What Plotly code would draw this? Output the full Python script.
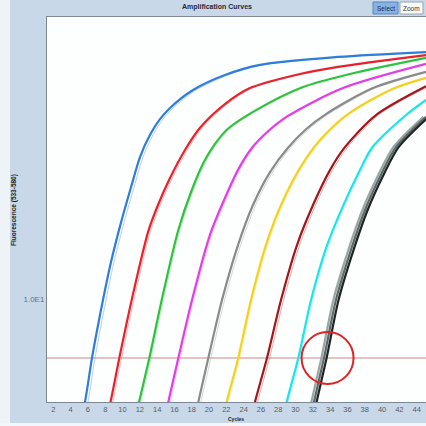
import math
import plotly.graph_objects as go

# ---- data -----------------------------------------------------------------
# Amplification curves of a 10-fold dilution series (cycle, fluorescence)
blue_cyc = [4.5, 5.66, 6.47, 7.74, 8.67, 9.83, 10.98, 12.02, 13.18, 14.33, 15.49, 18.15, 21.84, 25.89, 34.91, 45.08]
blue_flu = [3.8, 5.10, 6.81, 9.97, 12.8, 16.6, 20.9, 25.5, 29.5, 32.7, 35.2, 39.6, 43.7, 46.7, 49.2, 50.8]

red_cyc = [7.4, 8.61, 9.63, 11.06, 12.96, 14.10, 15.49, 17.22, 18.96, 21.84, 24.73, 30.51, 34.91, 45.08]
red_flu = [3.8, 5.10, 6.81, 9.97, 15.6, 18.6, 22.2, 26.7, 30.9, 36.1, 40.1, 44.0, 46.1, 49.8]

green_cyc = [10.7, 11.91, 13.10, 14.53, 16.45, 18.00, 19.42, 20.69, 22.19, 25.43, 30.86, 36.29, 45.08]
green_flu = [3.8, 5.10, 6.81, 9.97, 15.79, 20.5, 24.7, 27.8, 30.7, 34.7, 40.4, 44.0, 48.9]

magenta_cyc = [14.1, 15.29, 16.45, 18.03, 20.11, 22.08, 23.46, 24.97, 26.82, 29.13, 35.48, 45.08]
magenta_flu = [3.8, 5.10, 6.81, 9.97, 15.3, 20.1, 23.7, 27.1, 30.2, 33.4, 40.1, 47.0]

gray_cyc = [17.6, 18.76, 19.92, 21.50, 23.35, 25.08, 27.05, 29.13, 31.21, 33.52, 38.95, 45.08]
gray_flu = [3.8, 5.10, 6.81, 9.97, 14.3, 18.6, 23.1, 27.1, 30.6, 33.8, 40.1, 44.6]

yellow_cyc = [20.8, 22.04, 23.38, 24.85, 26.58, 28.32, 30.51, 32.83, 36.06, 41.26, 45.08]
yellow_flu = [3.8, 5.10, 6.81, 9.97, 14.3, 18.6, 23.7, 28.5, 33.8, 39.9, 42.9]

darkred_cyc = [24.1, 25.31, 26.70, 28.32, 30.17, 32.02, 33.98, 35.71, 39.30, 45.08]
darkred_flu = [3.8, 5.10, 6.81, 9.97, 14.3, 18.6, 23.4, 27.2, 33.6, 40.6]

cyan_cyc = [27.8, 28.98, 30.32, 31.79, 33.52, 35.37, 37.45, 38.84, 42.77, 45.08]
cyan_flu = [3.8, 5.10, 6.81, 9.97, 14.0, 18.2, 23.4, 27.1, 33.6, 37.1]

black_cyc = [31.0, 32.13, 33.29, 34.67, 36.41, 38.03, 39.88, 41.61, 45.08]
black_flu = [3.8, 5.10, 6.81, 9.97, 13.85, 18.0, 22.7, 27.2, 33.2]

# replicate wells: cycle offset of each replicate relative to the first
blue_reps = [0.0, 0.35]
red_reps = [0.0, 0.25]
green_reps = [0.0, 0.2]
magenta_reps = [0.0, 0.2]
gray_reps = [0.0, 0.3]
yellow_reps = [0.0, 0.2]
darkred_reps = [0.0, 0.3]
cyan_reps = [0.0, 0.2]
black_reps = [-0.3, 0.0, 0.3]

THRESHOLD = 6.81
CROSS_CYCLE = 33.7          # circled crossing of the last dilution

x_ticks = list(range(2, 46, 2))
y_tick_vals = [10]
y_tick_text = ["1.0E1"]

X_RANGE = [1.27, 45.08]
Y_RANGE = [math.log10(5.10), math.log10(63.97)]

# ---- figure ---------------------------------------------------------------
W, H = 426, 426
ML, MR, MT, MB = 47, 0, 17, 24
PW, PH = W - ML - MR, H - MT - MB

series = [
    (blue_cyc, blue_flu, blue_reps, ["#2f7ddb", "#6fa3e6"]),
    (red_cyc, red_flu, red_reps, ["#e8222c", "#ee6a6a"]),
    (green_cyc, green_flu, green_reps, ["#2fc23f", "#77d880"]),
    (magenta_cyc, magenta_flu, magenta_reps, ["#e23ee6", "#ee86ef"]),
    (gray_cyc, gray_flu, gray_reps, ["#8a8a8a", "#b0b0b0"]),
    (yellow_cyc, yellow_flu, yellow_reps, ["#f2d21e", "#f5e070"]),
    (darkred_cyc, darkred_flu, darkred_reps, ["#a3171b", "#c25a5c"]),
    (cyan_cyc, cyan_flu, cyan_reps, ["#1fe3ea", "#7aeef2"]),
    (black_cyc, black_flu, black_reps, ["#9aa6a6", "#5c6868", "#1e2424"]),
]

fig = go.Figure()

# horizontal threshold line
fig.add_trace(go.Scatter(
    x=X_RANGE, y=[THRESHOLD, THRESHOLD], mode="lines",
    line=dict(color="#c98a82", width=1.2), hoverinfo="skip", showlegend=False))

for cyc, flu, reps, colors in series:
    group = len(colors) > 2
    order = list(range(len(reps))) if group else list(reversed(range(len(reps))))
    for i in order:
        shift = reps[i]
        col = colors[i] if i < len(colors) else colors[-1]
        main = (shift == 0.0) or group
        fig.add_trace(go.Scatter(
            x=[c + shift for c in cyc], y=flu, mode="lines",
            line=dict(color=col, width=2.2 if main else 1.0,
                      shape="spline", smoothing=0.8),
            opacity=1.0 if main else 0.5,
            hoverinfo="skip", showlegend=False))


def px_to_paper(px, py):
    return (px - ML) / PW, (H - MB - py) / PH


# circle around the crossing point of the last dilution
cx = (CROSS_CYCLE - X_RANGE[0]) / (X_RANGE[1] - X_RANGE[0])
cy = (math.log10(THRESHOLD) - Y_RANGE[0]) / (Y_RANGE[1] - Y_RANGE[0])
r = 26
shapes = [dict(type="circle", xref="paper", yref="paper",
               x0=cx - r / PW, x1=cx + r / PW, y0=cy - r / PH, y1=cy + r / PH,
               line=dict(color="#e02222", width=2))]

# window chrome: pale margins and toolbar buttons
x0, y0 = px_to_paper(0, 426)
x1, y1 = px_to_paper(10, 0)
shapes.append(dict(type="rect", xref="paper", yref="paper", x0=x0, x1=x1, y0=y0, y1=y1,
                   fillcolor="#eef3f8", line_width=0, layer="below"))
x0, y0 = px_to_paper(0, 426)
x1, y1 = px_to_paper(426, 423)
shapes.append(dict(type="rect", xref="paper", yref="paper", x0=x0, x1=x1, y0=y0, y1=y1,
                   fillcolor="#f4f7fa", line_width=0, layer="below"))
bx0, by0 = px_to_paper(373, 14)
bx1, by1 = px_to_paper(398, 2)
shapes.append(dict(type="rect", xref="paper", yref="paper", x0=bx0, x1=bx1, y0=by0, y1=by1,
                   fillcolor="#86b3e3", line=dict(color="#5a86b8", width=1)))
zx0, zy0 = px_to_paper(400, 14)
zx1, zy1 = px_to_paper(423, 2)
shapes.append(dict(type="rect", xref="paper", yref="paper", x0=zx0, x1=zx1, y0=zy0, y1=zy1,
                   fillcolor="#fbfbfb", line=dict(color="#9aa4ae", width=1)))

annotations = []
tx, ty = px_to_paper(217, 7)
annotations.append(dict(text="<b>Amplification Curves</b>", xref="paper", yref="paper",
                        x=tx, y=ty, showarrow=False, xanchor="center", yanchor="middle",
                        font=dict(size=7, color="#1e2a3a", family="Liberation Sans")))
sx, sy = px_to_paper(385.5, 8)
annotations.append(dict(text="Select", xref="paper", yref="paper", x=sx, y=sy,
                        showarrow=False, xanchor="center", yanchor="middle",
                        font=dict(size=6.5, color="#1d2b45", family="Liberation Sans")))
zx, zy = px_to_paper(411.5, 8)
annotations.append(dict(text="Zoom", xref="paper", yref="paper", x=zx, y=zy,
                        showarrow=False, xanchor="center", yanchor="middle",
                        font=dict(size=6.5, color="#333333", family="Liberation Sans")))
yx, yy = px_to_paper(14, 210)
annotations.append(dict(text="<b>Fluorescence (533-580)</b>", xref="paper", yref="paper",
                        x=yx, y=yy, showarrow=False, textangle=-90,
                        xanchor="center", yanchor="middle",
                        font=dict(size=6.5, color="#1a1a1a", family="Liberation Sans")))
cx_, cy_ = px_to_paper(236, 419)
annotations.append(dict(text="<b>Cycles</b>", xref="paper", yref="paper", x=cx_, y=cy_,
                        showarrow=False, xanchor="center", yanchor="middle",
                        font=dict(size=5, color="#1a1a1a", family="Liberation Sans")))

fig.update_layout(
    width=W, height=H,
    margin=dict(l=ML, r=MR, t=MT, b=MB, pad=0),
    paper_bgcolor="#c9d8e8",
    plot_bgcolor="#fdfefe",
    showlegend=False,
    shapes=shapes,
    annotations=annotations,
    xaxis=dict(range=X_RANGE, tickvals=x_ticks, ticks="", showgrid=False, zeroline=False,
               showline=True, linecolor="#7d8894", linewidth=1, mirror=True,
               tickfont=dict(size=7.5, color="#555c66", family="Liberation Sans"),
               ticklabelstandoff=0),
    yaxis=dict(type="log", range=Y_RANGE, tickvals=y_tick_vals, ticktext=y_tick_text,
               ticks="", showgrid=False, zeroline=False,
               showline=True, linecolor="#7d8894", linewidth=1, mirror=True,
               tickfont=dict(size=8, color="#6a717a", family="Liberation Sans")),
)

fig.write_html("out.html")
